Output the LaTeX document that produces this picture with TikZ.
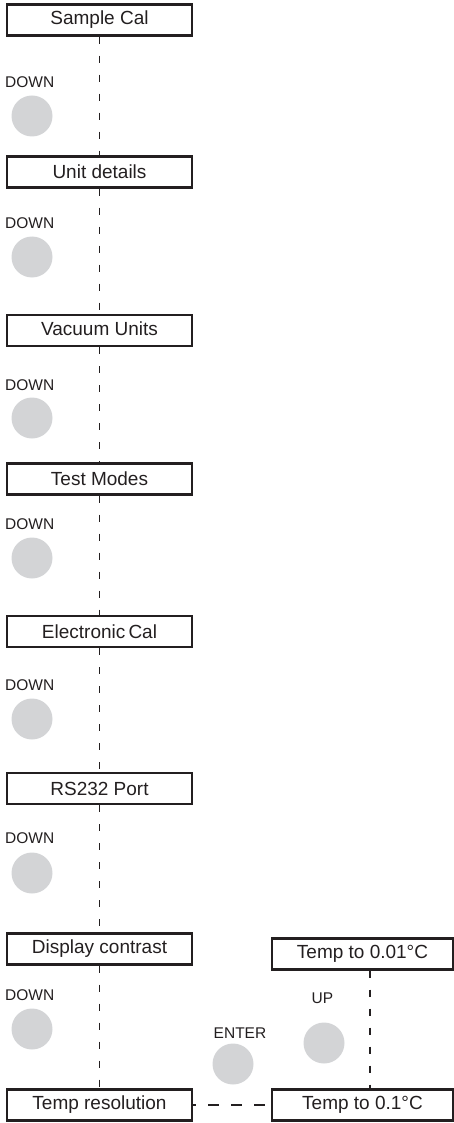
\documentclass[tikz,border=0pt]{standalone}
\usepackage{fontspec}
\setmainfont{Liberation Sans}
\usetikzlibrary{positioning}

\definecolor{keygray}{RGB}{211,212,214}
\definecolor{edgegray}{RGB}{35,31,32}

\begin{document}
\begin{tikzpicture}[x=1pt, y=-1pt,
  menubox/.style={draw=edgegray, line width=2.4pt, minimum width=184.6pt, minimum height=31pt, inner sep=0pt, text=edgegray, font=\fontsize{19}{21}\selectfont},
  keybtn/.style={circle, fill=keygray, minimum size=41pt, inner sep=0pt},
  keylabel/.style={inner sep=0pt, text=edgegray, font=\fontsize{15.5}{17}\selectfont},
  flow/.style={draw=edgegray, line width=1.1pt, dash pattern=on 7pt off 12pt}]
  \useasboundingbox (0,0) rectangle (454,1123);

  % Menu items
  \node[menubox] (samplecal) at (99.5,20) {Sample Cal};
  \node[menubox] (unitdet) at (99.5,172) {Unit details};
  \node[menubox] (vacunits) at (99.5,330.5) {\raisebox{4pt}{Vacuum Units}};
  \node[menubox] (testmodes) at (99.5,479) {Test Modes};
  \node[menubox] (eleccal) at (99.5,631.5) {Electronic\,Cal};
  \node[menubox] (rsport) at (99.5,788.5) {RS232 Port};
  \node[menubox] (contrast) at (99.5,949) {Display contrast};
  \node[menubox] (tempres) at (99.5,1105) {Temp resolution};

  % Resolution options
  \node[menubox, minimum width=180.6pt] (tempfine) at (362.5,954) {Temp to 0.01\textdegree C};
  \node[menubox, minimum width=180.6pt] (tempcoarse) at (362.5,1105) {Temp to 0.1\textdegree C};

  % DOWN keys
  \foreach \ly/\ky [count=\i] in {82/116, 223/257, 385/418, 524/558, 685/719, 838/873, 995/1029} {
    \node[keylabel, anchor=west] (downlbl\i) at (5,\ly) {DOWN};
    \node[keybtn] (downkey\i) at (32,\ky) {};
  }

  % ENTER and UP keys
  \node[keylabel] (enterlbl) at (240,1033) {ENTER};
  \node[keybtn] (enterkey) at (233,1064) {};
  \node[keylabel] (uplbl) at (322.5,998) {UP};
  \node[keybtn] (upkey) at (324,1043) {};

  % Menu flow
  \draw[flow] (samplecal) -- (unitdet);
  \draw[flow] (unitdet) -- (vacunits);
  \draw[flow] (vacunits) -- (testmodes);
  \draw[flow] (testmodes) -- (eleccal);
  \draw[flow] (eleccal) -- (rsport);
  \draw[flow] (rsport) -- (contrast);
  \draw[flow] (contrast) -- (tempres);
  \draw[flow, dash pattern=on 11pt off 12pt, dash phase=8pt] (tempres) -- (tempcoarse);
  \draw[flow] ([xshift=7.5pt]tempfine.south) -- ([xshift=7.5pt]tempcoarse.north);
\end{tikzpicture}
\end{document}
